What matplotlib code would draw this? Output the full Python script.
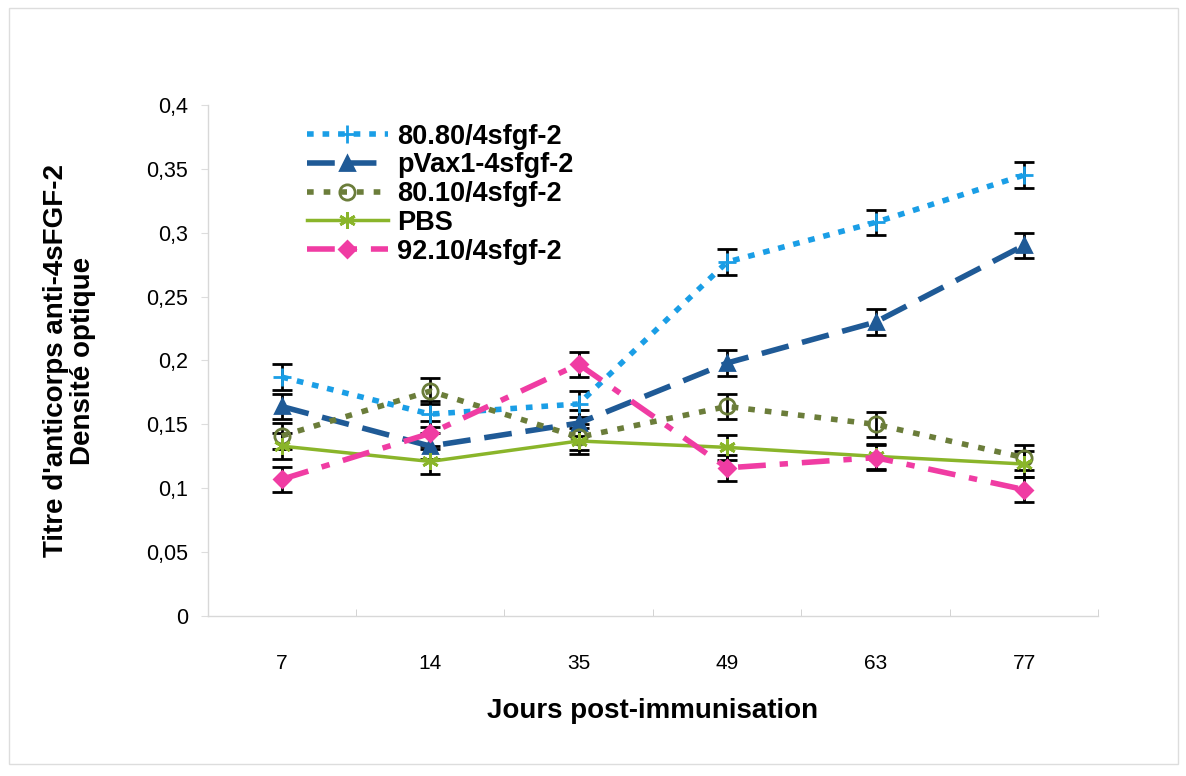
import matplotlib.pyplot as plt
from matplotlib.patches import Rectangle

plt.rcParams['font.family'] = ['Liberation Sans', 'DejaVu Sans']

# Data (optical density)
days = ['7', '14', '35', '49', '63', '77']
s_8080 = [0.187, 0.158, 0.166, 0.277, 0.308, 0.345]
s_pvax = [0.164, 0.133, 0.151, 0.198, 0.230, 0.290]
s_8010 = [0.141, 0.176, 0.140, 0.164, 0.150, 0.124]
s_pbs = [0.133, 0.121, 0.137, 0.132, 0.125, 0.119]
s_9210 = [0.107, 0.143, 0.197, 0.116, 0.124, 0.099]
err = [0.010, 0.010, 0.010, 0.010, 0.010, 0.010]

series = [
    ('80.80/4sfgf-2', s_8080, '#1a9ee6', (0, (1.2, 1.6)), '+', 4, 13, '#1a9ee6'),
    ('pVax1-4sfgf-2', s_pvax, '#1f5a96', (0, (5, 2.5)), '^', 4, 10, '#1f5a96'),
    ('80.10/4sfgf-2', s_8010, '#6b7d3a', (0, (1.2, 1.8)), 'o', 4, 11, 'none'),
    ('PBS', s_pbs, '#8ab52a', '-', (6, 2, 0), 2.5, 12, '#8ab52a'),
    ('92.10/4sfgf-2', s_9210, '#f03ca3', (0, (5, 2.5, 1.5, 2.5)), 'D', 4, 8, '#f03ca3'),
]

fig = plt.figure(figsize=(11.86, 7.76), dpi=100)
ax = fig.add_axes([0.175, 0.206, 0.751, 0.659])

x = list(range(len(days)))
for name, vals, col, ls, mk, lw, ms, fc in series:
    ax.errorbar(x, vals, yerr=err, fmt='none', ecolor='black', elinewidth=2,
                capsize=7, capthick=2, zorder=3)
    ax.plot(x, vals, color=col, linestyle=ls, linewidth=lw, marker=mk,
            markersize=ms, markerfacecolor=fc, markeredgecolor=col,
            markeredgewidth=2, label=name, zorder=4)

ax.set_xlim(-0.5, len(days) - 0.5)
ax.set_ylim(0, 0.4)
ax.set_xticks(x)
ax.set_xticklabels(days)
ax.set_xticks([i - 0.5 for i in range(len(days) + 1)], minor=True)
ax.set_yticks([i * 0.05 for i in range(9)])
ax.set_yticklabels(['0', '0,05', '0,1', '0,15', '0,2', '0,25', '0,3', '0,35', '0,4'])
ax.tick_params(axis='x', which='major', length=0, pad=27, labelsize=15)
ax.tick_params(axis='x', which='minor', length=5, color='#cccccc', direction='in')
ax.tick_params(axis='y', length=5, color='#dddddd', pad=9, labelsize=15.5)

for side in ['top', 'right']:
    ax.spines[side].set_visible(False)
for side in ['left', 'bottom']:
    ax.spines[side].set_color('#d8d8d8')
    ax.spines[side].set_linewidth(1)

ax.set_xlabel('Jours post-immunisation', fontsize=20, fontweight='bold', labelpad=18)
ax.set_ylabel("Titre d'anticorps anti-4sFGF-2\nDensité optique", fontsize=20,
              fontweight='bold', labelpad=36, linespacing=1.05)

ax.legend(loc='upper left', bbox_to_anchor=(0.09, 1.0), frameon=False,
          prop={'weight': 'bold', 'size': 19.5}, handlelength=3.0,
          handletextpad=0.35, labelspacing=0.1, borderpad=0.2)

# faint border of the scanned page
fig.patches.append(Rectangle((0.008, 0.015), 0.985, 0.975, transform=fig.transFigure,
                             fill=False, edgecolor='#dddddd', linewidth=1))

fig.savefig('out.png', dpi=100)
